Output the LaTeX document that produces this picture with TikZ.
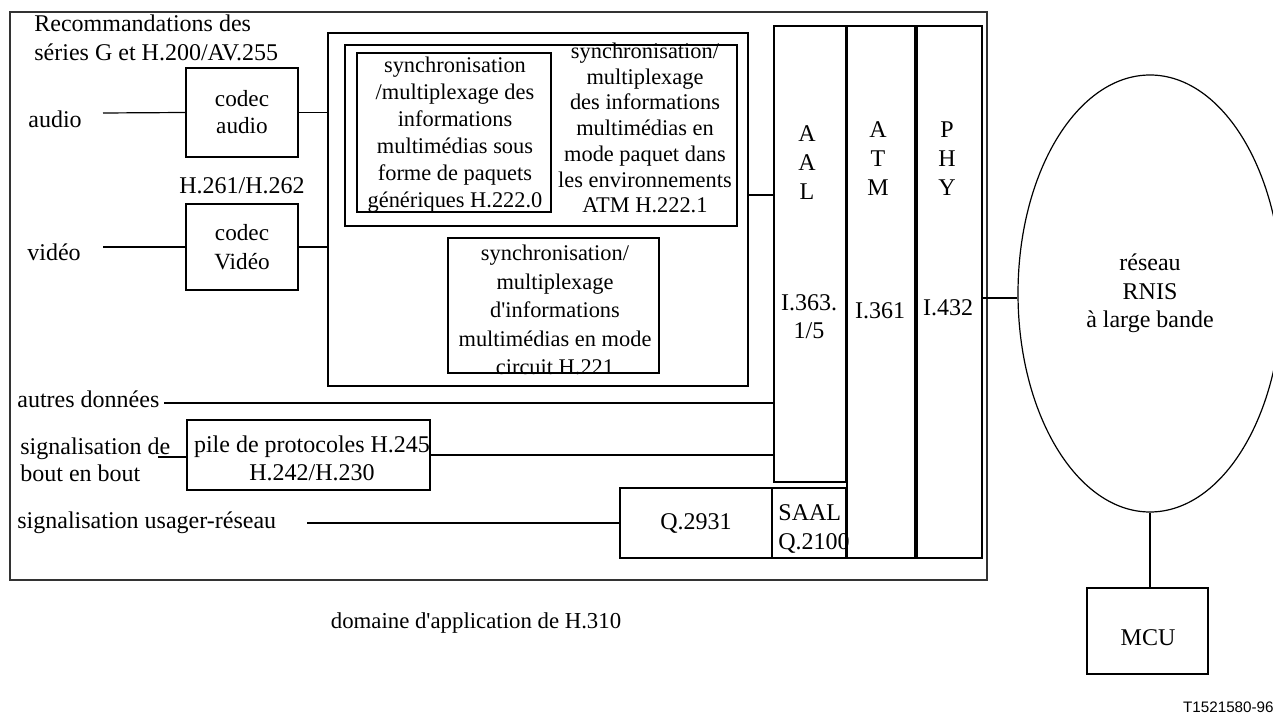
\documentclass[tikz,border=0pt]{standalone}
\usepackage{fontspec}
\setmainfont{Liberation Serif}
\newfontfamily\tagfont{Liberation Sans}
\usetikzlibrary{shapes.geometric}

\begin{document}
\begin{tikzpicture}[x=0.5pt,y=-0.5pt,
    box/.style={draw,line width=0.6pt,inner sep=0pt},
    sz/.style 2 args={minimum width=#1*0.5pt,minimum height=#2*0.5pt},
    lab/.style={anchor=base west,inner sep=0pt,font=\fontsize{12}{14}\selectfont},
    txt/.style={align=center,inner sep=0pt,font=\fontsize{11.2}{13.5}\selectfont},
    wire/.style={line width=0.6pt}]
  \useasboundingbox (0,0) rectangle (1273,715);
  % domaine d'application
  \draw[line width=0.9pt,black!80] (10,12) rectangle (987,580);
  \node[lab] (rec1) at (34,32) {Recommandations des};
  \node[lab] (rec2) at (34,61) {séries G et H.200/AV.255};

  % codecs
  \node[box,sz={112}{89},txt,font=\fontsize{11.6}{13.5}\selectfont]
    (caudio) at (242,112.5) {codec\\audio};
  \node[box,sz={112}{86},txt,font=\fontsize{11.6}{14.5}\selectfont]
    (cvideo) at (242,247) {codec\\Vidéo};
  \node[anchor=base,inner sep=0pt,font=\fontsize{12}{14}\selectfont]
    (hvid) at (242,194) {H.261/H.262};
  \node[lab] (audio) at (28,128) {audio};
  \node[lab] (video) at (27,261) {vidéo};
  \coordinate (audin) at (103,113);
  \coordinate (vidin) at (103,247);

  % multiplexage
  \node[box,sz={420}{353}] (mux) at (538,209.5) {};
  \node[box,sz={392}{181}] (h2221) at (541,135.5) {};
  \node[box,sz={194}{159}] (h2220) at (454,132.5) {};
  \node[box,sz={211}{135}] (h221) at (553.5,305.5) {};
  \node[txt] (h2220t) at (455,135) {synchronisation\\/multiplexage des\\informations\\
    multimédias sous\\forme de paquets\\génériques H.222.0};
  \node[txt,font=\fontsize{11.2}{12.85}\selectfont] (h2221t) at (645,128)
    {synchronisation/\\multiplexage\\des informations\\multimédias en\\
    mode paquet dans\\les environnements\\ATM H.222.1};
  \node[txt,font=\fontsize{11.2}{14.2}\selectfont] (h221t) at (555,310)
    {synchronisation/\\multiplexage\\d\textquotesingle informations\\multimédias en mode\\
    circuit H.221};

  % couches AAL / ATM / PHY
  \node[box,sz={72}{456}] (aal) at (810,254) {};
  \node[box,sz={68}{532}] (atm) at (881,292) {};
  \node[box,sz={65}{532}] (phy) at (949.5,292) {};
  \node[box,sz={74}{70}] (saal) at (809,523) {};
  \node[box,sz={152}{70},txt,font=\fontsize{12}{14}\selectfont]
    (q2931) at (696,523) {Q.2931};
  \node[txt,font=\fontsize{12}{14.5}\selectfont] (aalt) at (807,163) {A\\A\\L};
  \node[txt,font=\fontsize{12}{14}\selectfont] (aaln) at (809,317) {I.363.\\1/5};
  \node[txt,font=\fontsize{12}{14.5}\selectfont] (atmt) at (878,159) {A\\T\\M};
  \node[txt,font=\fontsize{12}{14}\selectfont] (atmn) at (880,311) {I.361};
  \node[txt,font=\fontsize{12}{14.5}\selectfont] (phyt) at (947,159) {P\\H\\Y};
  \node[txt,font=\fontsize{12}{14}\selectfont] (phyn) at (948,308) {I.432};
  \node[txt,anchor=west,align=left,font=\fontsize{12}{14.5}\selectfont]
    (saalt) at (778,529) {SAAL\\Q.2100};

  % autres entrees
  \node[lab] (autres) at (17,408) {autres données};
  \node[lab] (sig1) at (20,455) {signalisation de};
  \node[lab] (sig2) at (20,481) {bout en bout};
  \node[lab] (usager) at (17,528) {signalisation usager-réseau};
  \node[box,sz={243}{70}] (pile) at (308.5,455) {};
  \node[txt,font=\fontsize{12}{14}\selectfont]
    (pilet) at (312,458) {pile de protocoles H.245\\H.242/H.230};
  \coordinate (autin) at (164,403);
  \coordinate (sigin) at (158,457);
  \coordinate (usgin) at (307,523);
  \coordinate (muxout) at (749,195);

  % reseau
  \node[draw,ellipse,line width=0.6pt,inner sep=0pt,sz={264}{437},txt,
    font=\fontsize{12}{14.25}\selectfont] (net) at (1150,293.5)
    {réseau\\RNIS\\à large bande};
  \node[box,sz={121}{86}] (mcu) at (1147.5,631) {};
  \node[txt,font=\fontsize{12}{14}\selectfont] (mcut) at (1148,638) {MCU};

  \node[anchor=base,inner sep=0pt,font=\fontsize{11.4}{13.5}\selectfont]
    (scope) at (476,628) {domaine d\textquotesingle application de H.310};
  \node[anchor=base east,inner sep=0pt,font=\tagfont\fontsize{7.6}{9}\selectfont]
    (tag) at (1274,712) {T1521580-96};

  % liaisons
  \draw[wire] (audin) -- (caudio.west);
  \draw[wire] (vidin) -- (cvideo.west);
  \draw[wire] (caudio.east) -- (caudio.east -| mux.west);
  \draw[wire] (cvideo.east) -- (cvideo.east -| mux.west);
  \draw[wire] (muxout) -- (muxout -| aal.west);
  \draw[wire] (autin) -- (autin -| aal.west);
  \draw[wire] (sigin) -- (sigin -| pile.west);
  \draw[wire] (pile.east) -- (pile.east -| aal.west);
  \draw[wire] (usgin) -- (q2931.west);
  \draw[wire] ([yshift=-3pt]phy.east) -- ([yshift=-3pt]phy.east -| net.west);
  \draw[wire] (net.south) -- (net.south |- mcu.north);
\end{tikzpicture}
\end{document}
